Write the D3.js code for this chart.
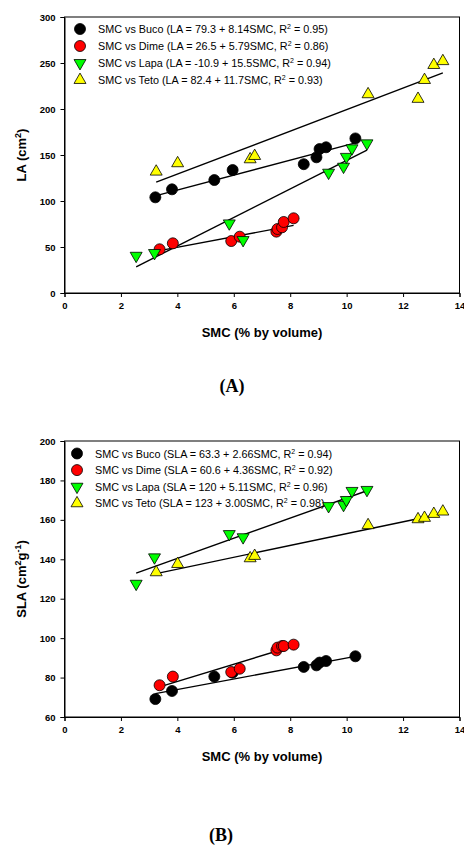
<!DOCTYPE html>
<html><head><meta charset="utf-8">
<script src="https://cdn.jsdelivr.net/npm/d3@7"></script>
<style>
html,body{margin:0;padding:0;background:#fff;}
svg{display:block;}
</style></head>
<body>
<script>
// ---------- data ----------
const species = ["Buco", "Dime", "Lapa", "Teto"];
const colors = ["#000000", "#ff0000", "#00ff00", "#ffff00"];
const xTicks = [0, 2, 4, 6, 8, 10, 12, 14];
const laTicks = [0, 50, 100, 150, 200, 250, 300];
const slaTicks = [60, 80, 100, 120, 140, 160, 180, 200];

const smcBuco = [3.22, 3.81, 5.31, 5.96, 8.48, 8.93, 9.04, 9.27, 10.31];
const smcDime = [3.37, 3.84, 5.91, 6.21, 7.51, 7.55, 7.71, 7.77, 8.12];
const smcLapa = [2.54, 3.19, 5.84, 6.33, 9.36, 9.89, 9.99, 10.19, 10.72];
const smcTeto = [3.25, 4.01, 6.58, 6.74, 10.76, 12.53, 12.76, 13.09, 13.41];

const laBuco = [104, 112.7, 122.8, 133.7, 140, 147.5, 156.5, 158.4, 168];
const laDime = [47.5, 54, 56.5, 61.2, 66.7, 69.6, 71.4, 77.2, 81.2];
const laLapa = [40.5, 43.5, 75.7, 57.6, 130.8, 137.3, 148, 157.3, 162.7];
const laTeto = [131.9, 141, 145.3, 148.9, 216, 211, 231.5, 247.8, 252];

const slaBuco = [69.1, 73.2, 80.5, 82.5, 85.4, 86.2, 87.6, 88.4, 90.8];
const slaDime = [76.1, 80.5, 82.8, 84.5, 93.8, 95.2, 96, 96, 96.7];
const slaLapa = [127.6, 141, 152.8, 151.2, 167, 167.6, 170.1, 174.7, 175.2];
const slaTeto = [133.4, 137.6, 140.5, 141.7, 157.3, 160.3, 161, 163, 164.2];

const laIntercept = ["79.3", "26.5", "-10.9", "82.4"];
const laSlope = ["8.14", "5.79", "15.5", "11.7"];
const laR2 = ["0.95", "0.86", "0.94", "0.93"];
const slaIntercept = ["63.3", "60.6", "120", "123"];
const slaSlope = ["2.66", "4.36", "5.11", "3.00"];
const slaR2 = ["0.94", "0.92", "0.96", "0.98"];

const smcAll = [smcBuco, smcDime, smcLapa, smcTeto];

// ---------- drawing ----------
const SANS = "Arial,'Liberation Sans',Helvetica,sans-serif";
const SERIF = "'Times New Roman','Liberation Serif','DejaVu Serif',serif";
const W = 464, H = 846;
const svg = d3.select("body").append("svg").attr("width", W).attr("height", H)
  .style("font-family", SANS);

const symbolFor = [
  d3.symbol().type(d3.symbolCircle).size(95),
  d3.symbol().type(d3.symbolCircle).size(95),
  d3.symbol().type(d3.symbolTriangle).size(62),
  d3.symbol().type(d3.symbolTriangle).size(62)
];
const rot = [0, 0, 180, 0];

function drawPanel(cfg) {
  const x = d3.scaleLinear().domain([0, 14]).range([64.5, 459.5]);
  const y = d3.scaleLinear().domain(cfg.yDomain).range([cfg.bottom, cfg.top]);
  const g = svg.append("g");

  // frame
  g.append("rect").attr("x", x(0)).attr("y", y(cfg.yDomain[1]))
    .attr("width", x(14) - x(0)).attr("height", y(cfg.yDomain[0]) - y(cfg.yDomain[1]))
    .attr("fill", "none").attr("stroke", "#000").attr("stroke-width", 1);

  // axes
  const xa = g.append("g").attr("transform", `translate(0,${y(cfg.yDomain[0])})`)
    .call(d3.axisBottom(x).tickValues(xTicks).tickSize(4).tickPadding(5).tickFormat(d3.format("d")));
  const ya = g.append("g").attr("transform", `translate(${x(0)},0)`)
    .call(d3.axisLeft(y).tickValues(cfg.yTicks).tickSize(4).tickPadding(5).tickFormat(d3.format("d")));
  [xa, ya].forEach(a => {
    a.attr("font-family", null).attr("font-size", null);
    a.select(".domain").attr("stroke", "#000").attr("stroke-width", 1);
    a.selectAll(".tick line").attr("stroke", "#000");
    a.selectAll("text").style("font-family", SANS)
      .style("font-weight", "bold").style("font-size", "9.5px").attr("fill", "#000");
  });

  // axis titles
  g.append("text").attr("x", (x(0) + x(14)) / 2).attr("y", y(cfg.yDomain[0]) + 44)
    .attr("text-anchor", "middle").style("font-weight", "bold").style("font-size", "13px")
    .text("SMC (% by volume)");
  const yt = g.append("text")
    .attr("transform", `translate(26,${(cfg.top + cfg.bottom) / 2}) rotate(-90)`)
    .attr("text-anchor", "middle").style("font-weight", "bold").style("font-size", "13px");
  cfg.yTitle(yt);

  // legend
  cfg.vals.forEach((_, i) => {
    const ly = cfg.legY + i * cfg.legStep;
    g.append("path").attr("d", symbolFor[i]())
      .attr("transform", `translate(${cfg.legX},${ly}) rotate(${rot[i]})`)
      .attr("fill", colors[i]).attr("stroke", "#000").attr("stroke-width", 0.8);
    const t = g.append("text").attr("x", cfg.legX + 18).attr("y", ly + 4)
      .style("font-size", "10.8px").attr("fill", "#000");
    t.append("tspan").text(`SMC vs ${species[i]} (${cfg.name} = ${cfg.icpt[i]} + ${cfg.slope[i]}SMC, R`);
    t.append("tspan").attr("dy", -4).style("font-size", "7px").text("2");
    t.append("tspan").attr("dy", 4).text(` = ${cfg.r2[i]})`);
  });

  // regression lines
  cfg.vals.forEach((_, i) => {
    const xs = smcAll[i];
    const a = +cfg.icpt[i], b = +cfg.slope[i];
    const x0 = d3.min(xs), x1 = d3.max(xs);
    g.append("line").attr("x1", x(x0)).attr("y1", y(a + b * x0))
      .attr("x2", x(x1)).attr("y2", y(a + b * x1))
      .attr("stroke", "#000").attr("stroke-width", 1.4);
  });

  // points
  cfg.vals.forEach((vals, i) => {
    g.append("g").selectAll("path").data(vals.map((v, k) => [smcAll[i][k], v])).join("path")
      .attr("d", symbolFor[i]())
      .attr("transform", d => `translate(${x(d[0])},${y(d[1])}) rotate(${rot[i]})`)
      .attr("fill", colors[i]).attr("stroke", "#000").attr("stroke-width", 0.8);
  });

  // panel label
  svg.append("text").attr("x", cfg.labX).attr("y", cfg.labY)
    .attr("text-anchor", "middle").style("font-family", SERIF)
    .style("font-weight", "bold").style("font-size", "18px").text(cfg.label);
}

drawPanel({
  yDomain: [0, 300], yTicks: laTicks, top: 17, bottom: 293,
  vals: [laBuco, laDime, laLapa, laTeto], name: "LA",
  icpt: laIntercept, slope: laSlope, r2: laR2,
  legX: 80, legY: 29, legStep: 17,
  label: "(A)", labX: 232, labY: 392,
  yTitle: t => {
    t.append("tspan").text("LA (cm");
    t.append("tspan").attr("dy", -5).style("font-size", "9px").text("2");
    t.append("tspan").attr("dy", 5).text(")");
  }
});

drawPanel({
  yDomain: [60, 200], yTicks: slaTicks, top: 441, bottom: 717,
  vals: [slaBuco, slaDime, slaLapa, slaTeto], name: "SLA",
  icpt: slaIntercept, slope: slaSlope, r2: slaR2,
  legX: 77, legY: 453.5, legStep: 16.6,
  label: "(B)", labX: 221, labY: 841,
  yTitle: t => {
    t.append("tspan").text("SLA (cm");
    t.append("tspan").attr("dy", -5).style("font-size", "9px").text("2");
    t.append("tspan").attr("dy", 5).text("g");
    t.append("tspan").attr("dy", -5).style("font-size", "9px").text("-1");
    t.append("tspan").attr("dy", 5).text(")");
  }
});
</script>
</body></html>
